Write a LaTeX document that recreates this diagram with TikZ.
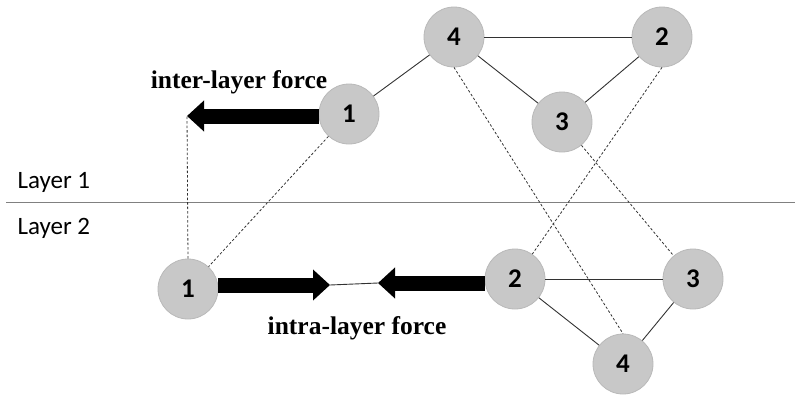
\documentclass[tikz,border=0pt]{standalone}
\usepackage{fontspec}
\setmainfont{Liberation Serif}
\newfontfamily\calfont{Carlito}
\usetikzlibrary{arrows.meta}
\definecolor{nodefill}{RGB}{200,200,200}
\definecolor{nodedraw}{RGB}{185,185,185}
\definecolor{edgecol}{RGB}{50,50,50}
\begin{document}
\begin{tikzpicture}[x=1pt,y=-1pt,
  vtx/.style={circle,minimum size=60pt,inner sep=0pt,fill=nodefill,draw=nodedraw,line width=0.8pt,font=\calfont\fontsize{27}{27}\selectfont\bfseries},
  edge/.style={draw=edgecol,line width=0.9pt},
  dedge/.style={draw=edgecol,line width=0.8pt,dash pattern=on 2.5pt off 2pt},
  force/.style={line width=15pt,-{Triangle[length=17pt 0,width=30pt 0]}},
  lab/.style={font=\fontsize{25.5}{25.5}\selectfont\bfseries},
  layer/.style={font=\calfont\fontsize{25}{25}\selectfont,anchor=west}]
\useasboundingbox (0,0) rectangle (795,394);
% layer separator
\coordinate (sepL) at (6,202);
\coordinate (sepR) at (795,202);
\draw[draw=gray,line width=0.9pt] (sepL) -- (sepR);
\node[layer] (l1) at (14,182) {Layer 1};
\node[layer] (l2) at (14,228) {Layer 2};
% nodes
\node[vtx] (T1) at (349,114) {1};
\node[vtx] (T4) at (454,37) {4};
\node[vtx] (T2) at (662,37) {2};
\node[vtx] (T3) at (562,122) {3};
\node[vtx] (B1) at (188,289) {1};
\node[vtx] (B2) at (515,279) {2};
\node[vtx] (B3) at (693,279) {3};
\node[vtx] (B4) at (623,364) {4};
% solid edges
\draw[edge] (T1) -- (T4);
\draw[edge] (T4) -- (T2);
\draw[edge] (T4) -- (T3);
\draw[edge] (T3) -- (T2);
\draw[edge] (B2) -- (B3);
\draw[edge] (B2) -- (B4);
\draw[edge] (B3) -- (B4);
% dashed inter-layer edges
\draw[dedge] (T4.south) -- (B4.north);
\draw[dedge] (T2.south) -- (B2);
\draw[dedge] (T3) -- (B3);
\draw[dedge] (T1) -- (B1);
% forces
\coordinate (tipA) at (187,116);
\coordinate (tipB) at (330,285);
\coordinate (tipC) at (378,283);
\draw[force] (T1.west |- tipA) -- (tipA);
\draw[dedge] (B1.north) -- (tipA);
\draw[force] (B1.east |- tipB) -- (tipB);
\draw[force] (B2.west |- tipC) -- (tipC);
\draw[edge] (tipB) -- (tipC);
\node[lab] (il) at (239,82) {inter-layer force};
\node[lab] (al) at (357,328) {intra-layer force};
\end{tikzpicture}
\end{document}
